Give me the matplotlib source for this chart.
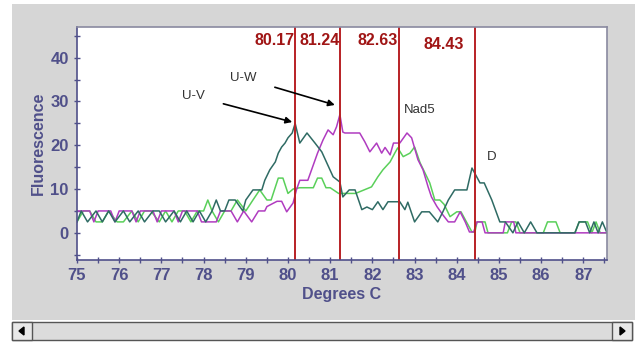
import matplotlib
matplotlib.use("Agg")
import matplotlib.pyplot as plt
from matplotlib.patches import Rectangle, Polygon
from matplotlib.ticker import MultipleLocator

plt.rcParams['font.family'] = ['Liberation Sans', 'DejaVu Sans']

# U-V (dark teal)
uv_x = [75.0, 75.1, 75.25, 75.45, 75.6, 75.75, 75.9, 76.1, 76.25, 76.45, 76.6, 76.8, 76.95,
        77.1, 77.3, 77.45, 77.6, 77.75, 77.9, 78.05, 78.2, 78.3, 78.4, 78.5, 78.6, 78.75,
        78.93, 79.0, 79.17, 79.38, 79.45, 79.57, 79.7, 79.77, 79.85, 79.93, 80.0, 80.1, 80.17,
        80.28, 80.45, 80.64, 80.8, 81.07, 81.23, 81.3, 81.45, 81.59, 81.75, 81.87, 82.0,
        82.13, 82.25, 82.37, 82.65, 82.77, 82.84, 83.0, 83.17, 83.35, 83.55, 83.67, 83.8,
        83.95, 84.24, 84.36, 84.55, 84.65, 84.83, 85.02, 85.15, 85.33, 85.45, 85.6, 85.75,
        85.9, 86.05, 86.2, 86.35, 86.5, 86.8, 86.9, 87.05, 87.15, 87.25, 87.35, 87.45, 87.56]
uv_y = [2.5, 5, 2.5, 5, 2.5, 5, 2.5, 5, 2.5, 5, 2.5, 5, 5,
        2.5, 5, 2.5, 5, 2.5, 5, 2.5, 5, 7.5, 5, 5, 7.5, 7.5,
        5, 7.5, 9.8, 9.8, 12, 14.4, 16.2, 18.2, 19.6, 20.5, 21.7, 22.8, 25,
        20.5, 22.8, 20.5, 18.5, 12.8, 11.6, 8.2, 9.8, 9.8, 5.3, 5.9, 5.3,
        7.1, 5.3, 7.1, 7.1, 5.3, 7, 2.5, 4.8, 4.8, 2.5, 4.8, 7.5,
        9.8, 9.8, 14.8, 11.4, 11.4, 7.5, 2.5, 2.5, 0, 2.5, 0, 2.5,
        0, 0, 0, 0, 0, 0, 2.5, 2.5, 0, 2.5, 0, 2.5, 0]

# U-W (magenta)
uw_x = [75.0, 75.3, 75.4, 75.5, 75.8, 75.9, 76.0, 76.3, 76.4, 76.5, 76.8, 76.9, 77.0,
        77.3, 77.4, 77.5, 77.85, 77.95, 78.3, 78.4, 78.65, 78.8, 78.95, 79.14, 79.3,
        79.45, 79.5, 79.74, 79.85, 79.97, 80.12, 80.2, 80.28, 80.47, 80.6, 80.7, 80.83,
        80.95, 81.07, 81.15, 81.23, 81.3, 81.35, 81.7, 81.82, 81.94, 82.1, 82.22, 82.3,
        82.42, 82.5, 82.65, 82.82, 82.93, 83.08, 83.2, 83.32, 83.4, 83.53, 83.67, 83.8,
        83.95, 84.08, 84.2, 84.3, 84.4, 84.48, 84.6, 84.67, 85.1, 85.15, 85.35, 85.4, 87.56]
uw_y = [5, 5, 2.5, 5, 5, 2.5, 5, 5, 2.5, 5, 5, 2.5, 5,
        5, 2.5, 5, 5, 2.5, 2.5, 5, 5, 2.5, 5, 2.5, 5,
        5, 6, 7.2, 7.2, 4.8, 6.8, 9.8, 12, 12, 15.5, 18.2, 21.2,
        23.5, 22.4, 24.2, 27, 23, 22.8, 22.8, 20.8, 18.5, 20.5, 18.2, 19.5,
        17.8, 20.5, 20.5, 22.8, 21.7, 16.7, 14.4, 10.5, 8.2, 6, 4.1, 2.5,
        2.5, 4.8, 2.5, 0.2, 0.2, 2.5, 2.5, 0, 0, 2.5, 2.5, 0, 0]

# Nad5 (light green)
nad5_x = [75.0, 75.15, 75.3, 75.45, 75.6, 75.75, 75.95, 76.1, 76.3, 76.45, 76.6, 76.75,
          76.95, 77.1, 77.25, 77.4, 77.55, 77.7, 77.85, 78.0, 78.1, 78.2, 78.35, 78.5,
          78.65, 78.8, 79.0, 79.17, 79.33, 79.5, 79.6, 79.77, 79.88, 80.0, 80.12, 80.28,
          80.6, 80.7, 80.8, 80.9, 81.0, 81.2, 81.6, 81.98, 82.13, 82.25, 82.42, 82.53, 82.6,
          82.73, 82.89, 83.0, 83.13, 83.36, 83.48, 83.6, 83.7, 83.84, 84.0, 84.1, 84.24,
          84.36, 84.43, 84.48, 84.67, 84.74, 85.2, 85.3, 85.4, 85.5, 86.05, 86.15, 86.35,
          86.45, 86.8, 86.9, 87.1, 87.2, 87.3, 87.4, 87.56]
nad5_y = [2.5, 5, 5, 2.5, 2.5, 5, 2.5, 2.5, 5, 2.5, 5, 5,
          2.5, 5, 2.5, 5, 5, 2.5, 5, 5, 7.5, 5, 2.5, 5,
          5, 7.5, 5, 7.5, 9.8, 7.5, 7.5, 12.5, 12.5, 9, 10, 10.3,
          10.3, 12.5, 12.5, 10.3, 10.3, 9, 9, 10.5, 12.8, 14.4, 16.2, 18.2, 19.4,
          17.4, 18.2, 19.6, 16, 11.4, 7.5, 7.5, 6.5, 3.7, 4.8, 4.8, 2.3,
          0.2, 0.2, 2.5, 2.5, 0, 0, 2.5, 2.5, 0, 0, 2.5, 2.5,
          0, 0, 2.5, 2.5, 0, 2.5, 0, 0]

melt_temps = [80.17, 81.24, 82.63, 84.43]
melt_labels = ["80.17", "81.24", "82.63", "84.43"]

axis_col = "#50508a"
fig = plt.figure(figsize=(6.35, 3.44), dpi=100, facecolor="white")

# grey panel and scrollbar
fig.patches.append(Rectangle((12 / 635, 24 / 344), 623 / 635, 316 / 344, transform=fig.transFigure,
                             facecolor="#d6d6d6", edgecolor="none", zorder=0))
fig.patches.append(Rectangle((12 / 635, 4 / 344), 620 / 635, 18 / 344, transform=fig.transFigure,
                             facecolor="#dcdcdc", edgecolor="#555555", lw=1, zorder=1))
fig.patches.append(Rectangle((12 / 635, 4 / 344), 20 / 635, 18 / 344, transform=fig.transFigure,
                             facecolor="#e8e8e8", edgecolor="#555555", lw=1, zorder=2))
fig.patches.append(Rectangle((612 / 635, 4 / 344), 20 / 635, 18 / 344, transform=fig.transFigure,
                             facecolor="#e8e8e8", edgecolor="#555555", lw=1, zorder=2))
fig.patches.append(Polygon([(19 / 635, 13 / 344), (24 / 635, 17 / 344), (24 / 635, 9 / 344)],
                           closed=True, transform=fig.transFigure, color="black", zorder=3))
fig.patches.append(Polygon([(625 / 635, 13 / 344), (620 / 635, 17 / 344), (620 / 635, 9 / 344)],
                           closed=True, transform=fig.transFigure, color="black", zorder=3))

ax = fig.add_axes([77 / 635, 84 / 344, 530 / 635, 233 / 344])
ax.set_zorder(5)
ax.set_facecolor("white")

ax.plot(nad5_x, nad5_y, color="#5ad05a", lw=1.1)
ax.plot(uw_x, uw_y, color="#b03cc0", lw=1.1)
ax.plot(uv_x, uv_y, color="#2f6b64", lw=1.1)

for t, lab in zip(melt_temps, melt_labels):
    ax.axvline(t, color="#b82025", lw=1.4)
    if lab == "84.43":
        ax.text(t - 0.75, 43.0, lab, color="#a01515", fontsize=11.5, fontweight="bold",
                ha="center", va="center")
    else:
        ax.text(t - 0.02, 44.0, lab, color="#a01515", fontsize=11.5, fontweight="bold",
                ha="right", va="center")

ax.annotate("U-V", xy=(80.1, 25.3), xytext=(77.75, 31.3), fontsize=9.5, color="#333333",
            ha="center", va="center",
            arrowprops=dict(arrowstyle="-|>", color="black", lw=1.2, shrinkA=12, shrinkB=0))
ax.annotate("U-W", xy=(81.11, 29.2), xytext=(78.93, 35.4), fontsize=9.5, color="#333333",
            ha="center", va="center",
            arrowprops=dict(arrowstyle="-|>", color="black", lw=1.2, shrinkA=12, shrinkB=0))
ax.text(83.13, 28.1, "Nad5", fontsize=9.5, color="#333333", ha="center", va="center")
ax.text(84.83, 17.4, "D", fontsize=9.5, color="#333333", ha="center", va="center")

ax.set_xlim(75, 87.56)
ax.set_ylim(-6.2, 47)
ax.xaxis.set_major_locator(MultipleLocator(1))
ax.xaxis.set_minor_locator(MultipleLocator(0.5))
ax.yaxis.set_major_locator(MultipleLocator(10))
ax.yaxis.set_minor_locator(MultipleLocator(5))
ax.tick_params(which="both", direction="inout", color=axis_col, labelcolor=axis_col,
               labelsize=12, length=5, width=1)
for lab in ax.get_xticklabels() + ax.get_yticklabels():
    lab.set_fontweight("bold")

for s in ["left", "bottom"]:
    ax.spines[s].set_color(axis_col)
    ax.spines[s].set_linewidth(1.2)
for s in ["top", "right"]:
    ax.spines[s].set_color("#8a8aa0")
    ax.spines[s].set_linewidth(1.2)

ax.set_xlabel("Degrees C", color=axis_col, fontsize=11.5, fontweight="bold", labelpad=3)
ax.set_ylabel("Fluorescence", color=axis_col, fontsize=11.5, fontweight="bold", labelpad=3)

fig.savefig("out.png", dpi=100, facecolor=fig.get_facecolor())
